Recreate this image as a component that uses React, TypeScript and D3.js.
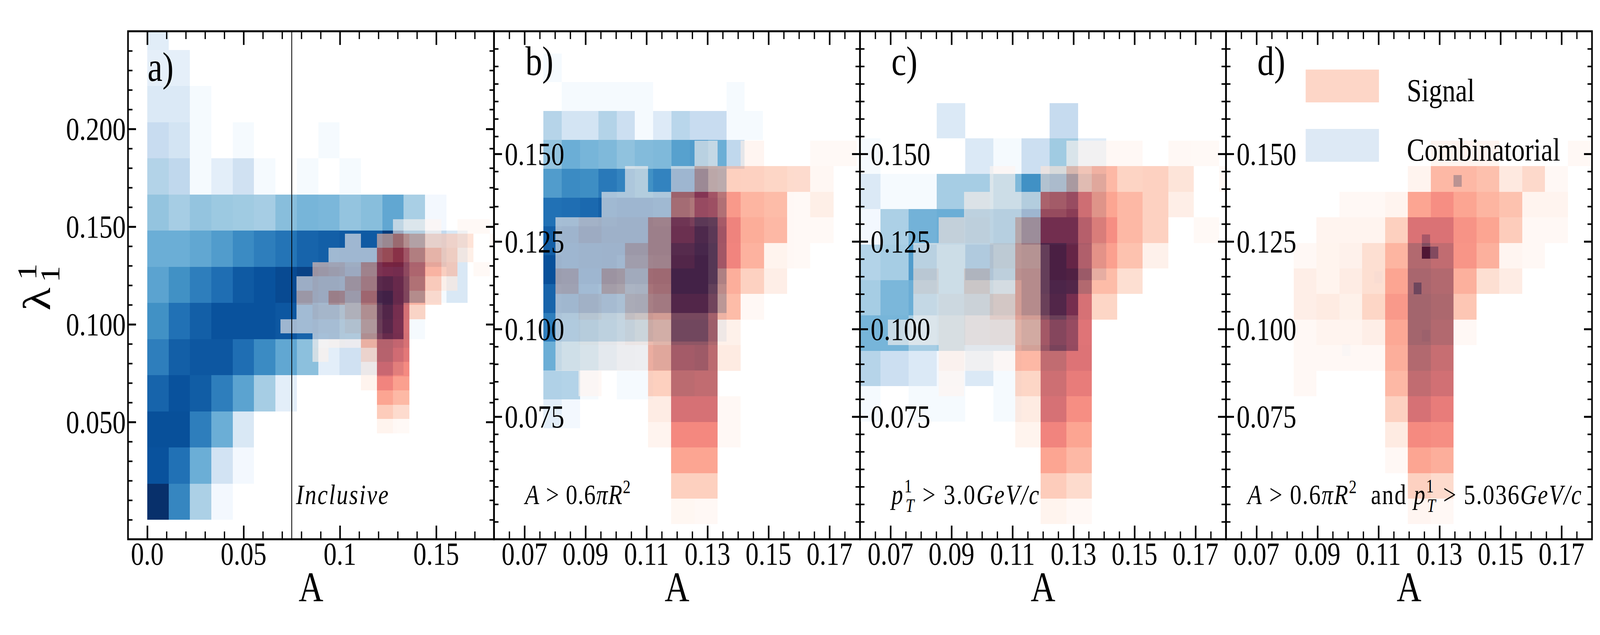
import { useEffect, useRef } from "react";
import * as d3 from "d3";

const _ = null;

// panel a
const aBlue = [
  [1, 0.67, 0.33, 0.02],
  [0.87, 0.75, 0.5, 0.19, 0.02],
  [0.88, 0.88, 0.7, 0.5, 0.15],
  [0.8, 0.87, 0.83, 0.7, 0.55, 0.35, 0.1],
  [0.7, 0.82, 0.85, 0.85, 0.76, 0.65, 0.53, 0.42, 0.1, 0.2, 0.2, 0.2],
  [0.63, 0.75, 0.82, 0.87, 0.87, 0.87, 0.85, 0.8, 0.75, 0.65, 0.65, 0.85, 0.01],
  [0.55, 0.63, 0.7, 0.76, 0.84, 0.87, 0.9, 0.93, 0.9, 0.87, 0.82, 0.87, 0.6, 0.01, 0.15],
  [0.5, 0.5, 0.53, 0.58, 0.65, 0.7, 0.74, 0.8, 0.82, 0.84, 0.84, 0.96, 0.62, 0.26, 0.15],
  [0.4, 0.35, 0.4, 0.38, 0.37, 0.35, 0.43, 0.47, 0.46, 0.4, 0.43, 0.53, 0.34, 0.02],
  [0.31, 0.27, 0.01, 0.1, 0.2, 0.01, _, 0.01, _, 0.01],
  [0.24, 0.18, 0.01, _, 0.01, _, _, _, 0.01],
  [0.14, 0.14, 0.01],
  [0.09, 0.09],
  [0.11],
];
const aRed = [
  [_, _, _, _, _, _, 0.05, 0],
  [_, _, _, _, _, _, 0.3, 0.22],
  [_, _, _, _, _, _, 0.5, 0.4],
  [_, _, _, _, _, 0.05, 0.65, 0.52],
  [_, _, _, _, _, 0.05, 0.77, 0.62],
  [_, _, 0.02, _, _, 0.2, 0.875, 0.73],
  [_, _, 0, 0.02, 0.01, 0.38, 0.88, 0.8],
  [0, 0, 0.03, 0.03, 0.1, 0.33, 0.93, 0.78],
  [_, 0, 0.1, 0.1, 0.2, 0.38, 0.95, 0.8, 0.25],
  [_, 0.18, 0.07, 0.33, 0.2, 0.5, 1, 0.88, 0.42, 0.22],
  [_, 0, 0.08, 0.08, 0.25, 0.4, 0.93, 0.87, 0.55, 0.3, 0.08],
  [_, _, 0.2, 0.17, 0.1, 0.35, 0.78, 0.8, 0.6, 0.42, 0.28, _, 0],
  [_, _, _, 0, 0, 0, 0.55, 0.68, 0.48, 0.35, 0.25, 0.1],
  [_, _, _, _, 0, _, 0.25, 0.4, 0.3, 0.2, 0.22, 0.18, _, 0],
  [_, _, _, _, _, _, _, 0, 0, 0, _, 0, 0],
];

// panel b
const bBlue = [
  [0.1, 0.02],
  [0.32, 0.31, 0.01, _, 0.01, 0.01],
  [0.5, 0.43, 0.38, 0.28, 0.2, 0.18, 0.3, 0.3, 0.3],
  [0.7, 0.65, 0.6, 0.55, 0.5, 0.45, 0.4, 0.5, 0.5, 0.15],
  [0.8, 0.82, 0.8, 0.75, 0.7, 0.72, 0.78, 0.85, 0.85, 0.55],
  [0.88, 0.85, 0.85, 0.85, 0.8, 0.8, 0.82, 0.85, 0.85, 0.65],
  [0.82, 0.85, 0.85, 0.85, 0.85, 0.85, 0.85, 0.8, 0.8, 0.65],
  [0.75, 0.76, 0.78, 0.82, 0.85, 0.85, 0.82, 0.75, 0.65, 0.6],
  [0.58, 0.65, 0.64, 0.72, 0.68, 0.63, 0.68, 0.85, 0.85, 0.55],
  [0.4, 0.5, 0.47, 0.45, 0.41, 0.44, 0.45, 0.56, 0.58, 0.5, 0.27],
  [0.3, 0.18, 0.18, 0.31, 0.22, 0.01, 0.13, 0.29, 0.24, 0.24, 0.01, 0.01],
  [_, 0.01, 0.01, 0.01, 0.01, 0.01, _, _, _, _, 0.01],
  [0.01],
];
const bRed = [
  [_, _, _, _, _, 0.02, 0],
  [_, _, _, _, _, 0.28, 0.28],
  [_, _, _, _, _, 0.5, 0.5],
  [_, _, _, _, 0.04, 0.63, 0.63, 0],
  [_, _, _, _, 0.12, 0.8, 0.8, 0],
  [_, 0, _, _, 0.28, 0.92, 0.9],
  [0, 0, 0, 0, 0.4, 0.9, 0.92, 0.13],
  [0, 0.03, 0.03, 0.08, 0.33, 0.97, 0.97, 0.08],
  [0.02, 0.1, 0.05, 0.2, 0.42, 0.95, 0.95, 0.38, 0],
  [0.18, 0, 0.25, 0.15, 0.48, 1, 1, 0.45, 0.27, 0.1],
  [0, 0.02, 0.03, 0.22, 0.35, 0.95, 1, 0.65, 0.43, 0.05, 0],
  [0.02, 0.1, 0.05, 0.05, 0.35, 0.88, 0.98, 0.66, 0.46, 0.4, 0, 0],
  [_, _, 0, 0, 0, 0.5, 0.72, 0.55, 0.42, 0.38, 0, 0.1],
  [_, _, _, 0, _, 0, 0.3, 0.28, 0.27, 0.25, 0.22, 0.02],
  [_, _, _, _, _, _, 0, _, 0.03, _, _, 0, 0],
];

// panel c
const cBlue = [
  [0.01, _, 0.01, 0.01, _, 0.01],
  [0.3, 0.22, 0.14, 0.02, 0.14, 0.01],
  [0.47, 0.47, 0.35, 0.38, 0.3, 0.3, 0.4, 0.6],
  [0.35, 0.46, 0.5, 0.45, 0.45, 0.4, 0.6, 0.85],
  [0.31, 0.35, 0.58, 0.45, 0.65, 0.55, 0.6, 0.9, 0.25],
  [0.02, 0.33, 0.48, 0.5, 0.55, 0.6, 0.85, 0.85, 0.3],
  [0.14, 0.01, 0.01, 0.35, 0.35, 0.45, 0.63, 0.7, 0.3],
  [0.01, _, _, _, 0.14, 0.01, 0.22, 0.37, 0.12],
  [_, _, _, 0.14, _, _, _, 0.25],
];
const cRed = [
  [_, _, _, _, _, _, 0.05, 0],
  [_, _, _, _, _, _, 0.3, 0.22],
  [_, _, _, _, _, _, 0.5, 0.4],
  [_, _, _, _, _, 0.05, 0.65, 0.5],
  [_, _, _, _, _, 0.13, 0.8, 0.6],
  [_, _, 0, _, _, 0.25, 0.85, 0.7],
  [_, _, 0.05, 0, 0, 0.4, 0.9, 0.76],
  [0, 0, 0.05, 0.1, 0.12, 0.35, 0.85, 0.75],
  [_, 0, 0.05, 0.1, 0.2, 0.42, 0.95, 0.8, 0.25],
  [_, 0.1, 0, 0.18, 0.05, 0.42, 0.97, 0.95, 0.38, 0.2],
  [_, 0, 0, 0, 0.1, 0.38, 0.97, 0.88, 0.52, 0.35, 0.07],
  [_, _, 0.08, 0.05, 0, 0.28, 0.82, 0.82, 0.6, 0.4, 0.27, _, 0],
  [_, _, _, 0.03, 0, 0, 0.6, 0.68, 0.5, 0.4, 0.27, 0.1],
  [_, _, _, _, 0, _, 0.1, 0.3, 0.4, 0.26, 0.27, 0.17, _, 0],
  [_, _, _, _, _, _, _, 0, 0, 0, _, 0, 0],
];

// panel d, the few combinatorial entries left are listed one by one
const dBlueA = [0.1242, 0.1242, 0.1269, 0.1215, 0.1346, 0.1242, 0.0981, 0.1086];
const dBlueL = [0.1236, 0.1201, 0.1201, 0.1099, 0.1406, 0.0964, 0.0923, 0.1131];
const dBlueT = [0.45, 1, 0.52, 0.5, 0.55, 0.05, 0.02, 0.02];
const dRed = [
  [_, _, _, _, _, 0.03, 0],
  [_, _, _, _, _, 0.27, 0.22],
  [_, _, _, _, 0, 0.5, 0.45],
  [_, _, _, _, 0.13, 0.62, 0.6],
  [_, _, _, _, 0.27, 0.8, 0.7],
  [0, _, _, _, 0.4, 0.9, 0.83],
  [0, 0, 0, 0, 0.45, 0.95, 0.88],
  [0, 0.04, 0.04, 0.1, 0.48, 1, 0.95, 0],
  [0.1, 0.13, 0.08, 0.25, 0.55, 1, 0.97, 0.33],
  [0.1, 0.05, 0.12, 0.2, 0.5, 0.98, 0.95, 0.44, 0.2, 0.12],
  [0, 0.05, 0.07, 0.2, 0.42, 0.95, 0.9, 0.57, 0.44, 0.03, 0],
  [_, 0.04, 0.04, 0.04, 0.28, 0.78, 0.78, 0.58, 0.5, 0.3, 0, 0],
  [_, _, 0, 0, 0.04, 0.5, 0.6, 0.5, 0.42, 0.35, 0.04, 0.04],
  [_, _, _, _, _, 0.04, 0.4, 0.4, 0.36, 0.14, 0.23, 0],
  [_, _, _, _, _, _, 0.04, 0.04, 0.04, _, _, _, 0],
];

const lettersA = ["a)", "b)", "c)", "d)"];
const xTicksA = [0, 0.05, 0.1, 0.15];
const xLabelsA = ["0.0", "0.05", "0.1", "0.15"];
const yTicksA = [0.05, 0.1, 0.15, 0.2];
const xTicksZoom = [0.07, 0.09, 0.11, 0.13, 0.15, 0.17];
const yTicksZoom = [0.075, 0.1, 0.125, 0.15];
const legendNames = ["Signal", "Combinatorial"];

const serif = "'Liberation Serif', serif";
const plotLeft = 400;
const plotWidth = 1143.75;
const plotTop = 80;
const plotBottom = 1380;

const blues = d3.piecewise(d3.interpolateRgb, d3.schemeBlues[9] as string[]);
const reds = d3.piecewise(d3.interpolateRgb, d3.schemeReds[9] as string[]);

const range = (from: number, to: number, step: number) =>
  d3.range(Math.round((to - from) / step) + 1).map((i) => from + i * step);

type Grid = { rows: (number | null)[][]; x0: number; dx: number; y0: number; dy: number };
type Seg = { t: string; it?: boolean; fs?: number; dy?: number; dx?: number };

const M = (t: string): Seg => ({ t, it: true });
const U = (t: string): Seg => ({ t });
const areaCut = [M("A"), U(" > 0.6"), M("\u03c0R"), { t: "2", fs: 48, dy: -28 }, { t: " ", dy: 28 }];
const ptCut = (v: string) => [
  M("p"),
  { t: "1", fs: 48, dy: -30 },
  { t: "T", it: true, fs: 48, dy: 50, dx: -24 },
  { t: " > " + v, dy: -20 },
  M("GeV/c"),
];

const panels = [
  {
    xDomain: [-0.01, 0.18],
    yDomain: [-0.01, 0.25],
    xTicks: xTicksA,
    xLabels: xLabelsA,
    xMinor: range(0, 0.18, 0.01),
    yTicks: yTicksA,
    yMinor: range(0, 0.24, 0.01),
    blue: { rows: aBlue, x0: 0, dx: 0.01109, y0: 0, dy: 0.0185 },
    red: { rows: aRed, x0: 0.0691, dx: 0.00836, y0: 0.0443, dy: 0.0073 },
    note: [M("Inclusive")],
    noteX: 925,
    noteLen: 289,
    letterY: 207,
  },
  {
    xDomain: [0.06, 0.18],
    yDomain: [0.04, 0.185],
    xTicks: xTicksZoom,
    xLabels: xTicksZoom.map((d) => d3.format(".2f")(d)),
    xMinor: range(0.065, 0.175, 0.005),
    yTicks: yTicksZoom,
    yMinor: range(0.045, 0.18, 0.005),
    blue: { rows: bBlue, x0: 0.0762, dx: 0.006, y0: 0.0717, dy: 0.00823 },
    red: { rows: bRed, x0: 0.0801, dx: 0.0076, y0: 0.0443, dy: 0.0073 },
    note: areaCut,
    noteX: 1641,
    noteLen: 349,
    letterY: 192,
  },
  {
    xDomain: [0.06, 0.18],
    yDomain: [0.04, 0.185],
    xTicks: xTicksZoom,
    xLabels: xTicksZoom.map((d) => d3.format(".2f")(d)),
    xMinor: range(0.065, 0.175, 0.005),
    yTicks: yTicksZoom,
    yMinor: range(0.045, 0.18, 0.005),
    blue: { rows: cBlue, x0: 0.0574, dx: 0.00926, y0: 0.0736, dy: 0.0101 },
    red: { rows: cRed, x0: 0.0691, dx: 0.00836, y0: 0.0443, dy: 0.0073 },
    note: ptCut("3.0"),
    noteX: 2786,
    noteLen: 461,
    letterY: 192,
  },
  {
    xDomain: [0.06, 0.18],
    yDomain: [0.04, 0.185],
    xTicks: xTicksZoom,
    xLabels: xTicksZoom.map((d) => d3.format(".2f")(d)),
    xMinor: range(0.065, 0.175, 0.005),
    yTicks: yTicksZoom,
    yMinor: range(0.045, 0.18, 0.005),
    blue: null,
    red: { rows: dRed, x0: 0.0822, dx: 0.00749, y0: 0.0443, dy: 0.0073 },
    note: [...areaCut, U(" and "), ...ptCut("5.036")],
    noteX: 3899,
    noteLen: 1043,
    letterY: 192,
  },
];

function drawGrid(
  g: d3.Selection<SVGGElement, unknown, null, undefined>,
  grid: Grid,
  x: d3.ScaleLinear<number, number>,
  y: d3.ScaleLinear<number, number>,
  color: (t: number) => string,
) {
  const cells = grid.rows.flatMap((row, r) =>
    row.flatMap((t, c) => (t === null ? [] : [{ r, c, t }])),
  );
  g.selectAll("rect")
    .data(cells)
    .join("rect")
    .attr("x", (d) => x(grid.x0 + d.c * grid.dx))
    .attr("y", (d) => y(grid.y0 + (d.r + 1) * grid.dy))
    .attr("width", (d) => x(grid.x0 + (d.c + 1) * grid.dx) - x(grid.x0 + d.c * grid.dx))
    .attr("height", (d) => y(grid.y0 + d.r * grid.dy) - y(grid.y0 + (d.r + 1) * grid.dy))
    .attr("fill", (d) => color(d.t))
    .attr("shape-rendering", "crispEdges");
}

function writeSegs(
  text: d3.Selection<SVGTextElement, unknown, null, undefined>,
  segs: Seg[],
  base: number,
) {
  segs.forEach((s) => {
    text
      .append("tspan")
      .attr("font-style", s.it ? "italic" : "normal")
      .attr("font-size", s.fs ?? base)
      .attr("dy", s.dy ?? 0)
      .attr("dx", s.dx ?? 0)
      .text(s.t);
  });
}

export default function App() {
  const svgRef = useRef<SVGSVGElement>(null);

  useEffect(() => {
    if (!svgRef.current) return;
    const svg = d3.select(svgRef.current);
    svg.selectAll("*").remove();

    panels.forEach((p, i) => {
      const left = plotLeft + i * plotWidth;
      const right = left + plotWidth;
      const x = d3.scaleLinear().domain(p.xDomain).range([left, right]);
      const y = d3.scaleLinear().domain(p.yDomain).range([plotBottom, plotTop]);
      const g = svg.append("g");

      const clipId = `clip${i}`;
      svg
        .append("clipPath")
        .attr("id", clipId)
        .append("rect")
        .attr("x", left)
        .attr("y", plotTop)
        .attr("width", plotWidth)
        .attr("height", plotBottom - plotTop);

      // Combinatorial is opaque, signal lies on top of it at 0.6
      const heat = g.append("g").attr("clip-path", `url(#${clipId})`);
      if (p.blue) drawGrid(heat.append("g"), p.blue, x, y, blues);
      if (i === 3) {
        heat
          .append("g")
          .selectAll("rect")
          .data(dBlueT)
          .join("rect")
          .attr("x", (_d, k) => x(dBlueA[k]))
          .attr("y", (_d, k) => y(dBlueL[k] + 0.0034))
          .attr("width", (_d, k) => x(dBlueA[k] + 0.00265) - x(dBlueA[k]))
          .attr("height", (_d, k) => y(dBlueL[k]) - y(dBlueL[k] + 0.0034))
          .attr("fill", (d) => blues(d))
          .attr("shape-rendering", "crispEdges");
      }
      drawGrid(heat.append("g").attr("opacity", 0.6), p.red, x, y, reds);

      if (i === 0) {
        g.append("line")
          .attr("x1", x(0.075))
          .attr("x2", x(0.075))
          .attr("y1", plotTop)
          .attr("y2", plotBottom)
          .attr("stroke", "black")
          .attr("stroke-width", 2.5);
      }

      // ticks point inwards on all four sides
      const noLabel = () => "";
      const xMinor = p.xMinor.filter((v) => !p.xTicks.some((t) => Math.abs(t - v) < 1e-6));
      const yMinor = p.yMinor.filter((v) => !p.yTicks.some((t) => Math.abs(t - v) < 1e-6));
      const sides = [
        { axis: d3.axisBottom(x), at: `translate(0,${plotBottom})`, major: 35, minor: 20, isX: true },
        { axis: d3.axisTop(x), at: `translate(0,${plotTop})`, major: 35, minor: 20, isX: true },
        { axis: d3.axisLeft(y), at: `translate(${left},0)`, major: 25, minor: 14, isX: false },
        { axis: d3.axisRight(y), at: `translate(${right},0)`, major: 25, minor: 14, isX: false },
      ];
      sides.forEach((s) => {
        [
          { values: s.isX ? xMinor : yMinor, size: s.minor, w: 4 },
          { values: s.isX ? p.xTicks : p.yTicks, size: s.major, w: 5 },
        ].forEach((t) => {
          const tg = g
            .append("g")
            .attr("transform", s.at)
            .call(
              s.axis
                .tickValues(t.values)
                .tickSize(-t.size)
                .tickSizeOuter(0)
                .tickFormat(noLabel),
            );
          tg.select(".domain").remove();
          tg.selectAll("text").remove();
          tg.selectAll("line").attr("stroke", "black").attr("stroke-width", t.w);
        });
      });

      g.append("rect")
        .attr("x", left)
        .attr("y", plotTop)
        .attr("width", plotWidth)
        .attr("height", plotBottom - plotTop)
        .attr("fill", "none")
        .attr("stroke", "black")
        .attr("stroke-width", 5);

      const labels = svg.append("g").attr("font-family", serif).attr("fill", "black");

      p.xTicks.forEach((t, k) => {
        labels
          .append("text")
          .attr("x", x(t))
          .attr("y", 1445)
          .attr("text-anchor", "middle")
          .attr("font-size", 82)
          .text(p.xLabels[k]);
      });
      p.yTicks.forEach((t) => {
        labels
          .append("text")
          .attr("x", i === 0 ? left - 7 : left + 220)
          .attr("y", y(t) + 28)
          .attr("text-anchor", "end")
          .attr("font-size", 83)
          .text(d3.format(".3f")(t));
      });

      labels
        .append("text")
        .attr("x", (left + right) / 2)
        .attr("y", 1539)
        .attr("text-anchor", "middle")
        .attr("font-size", 107)
        .text("A");

      labels
        .append("text")
        .attr("x", left + (i === 0 ? 61 : 98))
        .attr("y", p.letterY)
        .attr("font-size", 105)
        .text(lettersA[i]);

      const note = labels
        .append("text")
        .attr("x", p.noteX)
        .attr("y", 1290)
        .attr("textLength", p.noteLen)
        .attr("xml:space", "preserve");
      note.style("white-space", "pre");
      writeSegs(note, p.note, 72);

      if (i === 3) {
        legendNames.forEach((name, k) => {
          const ly = 178 + k * 152;
          labels
            .append("rect")
            .attr("x", left + 249)
            .attr("y", ly)
            .attr("width", 229)
            .attr("height", 84)
            .attr("fill", k === 0 ? reds(0.25) : blues(0.25))
            .attr("opacity", 0.6);
          labels
            .append("text")
            .attr("x", left + 565)
            .attr("y", ly + 81)
            .attr("font-size", 83)
            .text(name);
        });
      }
    });

    // y label
    const yl = svg
      .append("g")
      .attr("font-family", serif)
      .attr("transform", "translate(156,795) rotate(-90)");
    yl.append("text").attr("font-size", 122).text("\u03bb");
    yl.append("text").attr("x", 78).attr("y", -43).attr("font-size", 86).text("1");
    yl.append("text").attr("x", 72).attr("y", 30).attr("font-size", 86).text("1");
  }, []);

  // the real window can be narrower than the 5000 wide chart, so it is fitted to the window
  return (
    <svg
      ref={svgRef}
      viewBox="0 0 5000 1625"
      preserveAspectRatio="none"
      style={{ position: "absolute", left: 0, top: 0, width: "100vw", height: "100vh", background: "white" }}
    />
  );
}
